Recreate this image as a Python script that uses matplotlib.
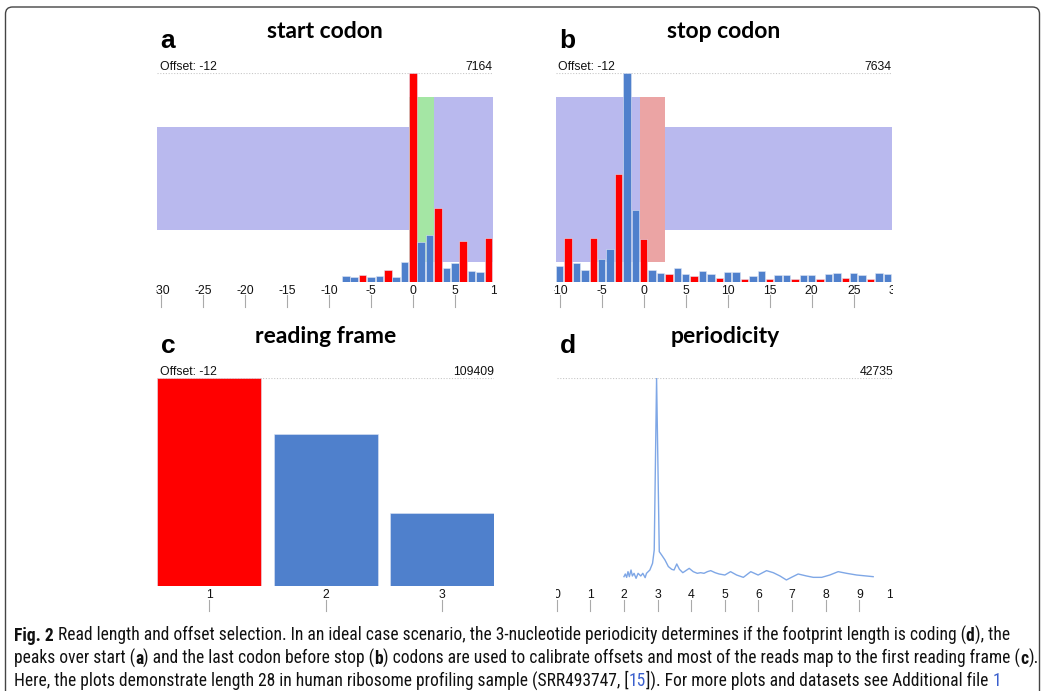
import numpy as np
import matplotlib
matplotlib.use("Agg")
import matplotlib.pyplot as plt
from matplotlib import font_manager
from matplotlib.patches import FancyBboxPatch
from matplotlib.transforms import Bbox, TransformedBbox, IdentityTransform, blended_transform_factory

# ---- data ----
start_pos = list(range(-8, 10))
start_counts = [195, 160, 240, 160, 195, 400, 160, 665, 7164, 1364, 1605, 2533,
                458, 642, 1398, 355, 321, 1513]

stop_pos = list(range(-10, 30))
stop_counts = [574, 1588, 696, 427, 1612, 830, 1185, 3945, 7634, 2613,
               1551, 427, 330, 269, 488, 269, 220, 403, 269, 147,
               354, 354, 98, 195, 391, 85, 232, 256, 98, 256,
               256, 110, 269, 317, 134, 330, 244, 85, 317, 269]

frame_labels = ["1", "2", "3"]
frame_counts = [109409, 79900, 38300]

period = [2.00, 2.04, 2.08, 2.12, 2.16, 2.21, 2.25, 2.30, 2.36, 2.42, 2.50, 2.56,
          2.63, 2.67, 2.77, 2.85, 2.90, 2.97, 3.05, 3.12, 3.22, 3.32, 3.42, 3.49,
          3.57, 3.65, 3.75, 3.84, 3.94, 4.06, 4.18, 4.28, 4.38, 4.48, 4.58, 4.71,
          4.83, 5.00, 5.17, 5.35, 5.55, 5.77, 5.99, 6.24, 6.44, 6.64, 6.83, 6.98,
          7.18, 7.43, 7.63, 7.88, 8.12, 8.37, 8.62, 8.92, 9.21, 9.41]
power = [1920, 2470, 1780, 2950, 1920, 3290, 2060, 2610, 1580, 2610, 2060, 2610,
         1720, 2610, 3290, 4670, 7400, 42735, 7070, 6380, 5350, 4000, 3430, 3290,
         4530, 3430, 2740, 3160, 3630, 2950, 2610, 2740, 2610, 2950, 3160, 2740,
         2470, 2260, 2950, 2260, 1780, 2950, 2260, 3160, 2740, 2060, 1240, 1780,
         2470, 2060, 1780, 1780, 2260, 2950, 2610, 2260, 2060, 1920]

offset_label = "Offset: -12"
# codon annotation blocks: (from, to, kind)
start_blocks = [(-30.5, -0.5, "utr"), (-0.5, 2.5, "codon"), (2.5, 9.5, "cds")]
stop_blocks = [(-10.5, -0.5, "cds"), (-0.5, 2.5, "codon"), (2.5, 29.5, "utr")]

RED = "#ff0000"
BLUE = "#4f80cc"
PURPLE = "#b9b9ee"
LINE = "#7fa7e6"

W, H = 1046, 691
fig = plt.figure(figsize=(W / 100, H / 100), dpi=100)


def px_axes(left, top, right, bottom):
    return fig.add_axes([left / W, (H - bottom) / H, (right - left) / W, (bottom - top) / H])


def clean(ax):
    for s in ax.spines.values():
        s.set_visible(False)
    ax.set_xticks([])
    ax.set_yticks([])
    ax.patch.set_alpha(0)


def axis_ticks(ax, ticks, labels, clip=True, spill=1.5):
    # labels are cut at the panel edges, as in the svg export
    tr = blended_transform_factory(ax.transData, ax.transAxes)
    wpx = ax.get_position().width * W
    box = TransformedBbox(Bbox([[-0.003, -0.5], [1 + spill / wpx, 1]]), ax.transAxes)
    lo, hi = ax.get_xlim()
    for t, lab in zip(ticks, labels):
        txt = ax.text(t, -0.045, lab, transform=tr, ha="center", va="center",
                      fontsize=8.8, family="Liberation Sans", color="#111")
        if clip:
            txt.set_clip_on(True)
            txt.set_clip_box(box)
        else:
            txt.set_clip_on(False)
        if lo <= t < hi - 0.05:
            ax.plot([t, t], [-0.065, -0.12], transform=tr, color="#aaa", lw=0.8, clip_on=False)


def header(ax, top, offset=True):
    ax.axhline(top, color="#c8c8c8", lw=0.8, ls=(0, (1, 1.5)), zorder=0.5)
    if offset:
        ax.text(0.008, 1.0, offset_label, transform=ax.transAxes, ha="left", va="bottom",
                fontsize=8.8, family="Liberation Sans", color="#111")
    ax.text(1.0, 1.0, str(top), transform=ax.transAxes, ha="right", va="bottom",
            fontsize=8.8, family="Liberation Sans", color="#111")


def title(ax, letter, text):
    ax.text(0.01, 1.155, letter, transform=ax.transAxes, ha="left", va="center",
            fontsize=19, fontweight="bold", family="Liberation Sans")
    ax.text(0.5, 1.2, text, transform=ax.transAxes, ha="center", va="center",
            fontsize=16.5, fontweight="bold", family="Lato")


def blocks(ax, spec, codon_color):
    for x0, x1, kind in spec:
        if kind == "utr":
            ax.axvspan(x0, x1, ymin=0.247, ymax=0.741, color=PURPLE, lw=0, zorder=0)
        elif kind == "cds":
            ax.axvspan(x0, x1, ymin=0.096, ymax=0.888, color=PURPLE, lw=0, zorder=0)
        else:
            ax.axvspan(x0, x1, ymin=0.096, ymax=0.888, color=codon_color, lw=0, zorder=0)


def frame_colors(pos):
    return [RED if p % 3 == 0 else BLUE for p in pos]


# ---- a: start codon ----
ax = px_axes(157.3, 73.3, 492.5, 281.7)
clean(ax)
blocks(ax, start_blocks, "#a4e6a4")
ax.bar(start_pos, start_counts, width=0.9, color=frame_colors(start_pos),
       edgecolor="#dfe6f5", lw=0.4, zorder=2)
ax.set_xlim(-30.5, 9.5)
ax.set_ylim(0, max(start_counts))
ticks = list(range(-30, 15, 5))
axis_ticks(ax, ticks, [str(t) for t in ticks], spill=4)
header(ax, max(start_counts))
title(ax, "a", "start codon")

# ---- b: stop codon ----
ax = px_axes(555.5, 73.3, 891.5, 281.7)
clean(ax)
blocks(ax, stop_blocks, "#eba4a4")
ax.bar(stop_pos, stop_counts, width=0.9, color=frame_colors(stop_pos),
       edgecolor="#dfe6f5", lw=0.4, zorder=2)
ax.set_xlim(-10.5, 29.5)
ax.set_ylim(0, max(stop_counts))
ticks = list(range(-10, 35, 5))
axis_ticks(ax, ticks, [str(t) for t in ticks], spill=1.5)
header(ax, max(stop_counts))
title(ax, "b", "stop codon")

# ---- c: reading frame ----
ax = px_axes(157.3, 378.3, 494, 586)
clean(ax)
xs = np.arange(1, 4)
ax.bar(xs, frame_counts, width=0.895, color=[RED, BLUE, BLUE],
       edgecolor="#dfe6f5", lw=0.4, zorder=2)
ax.set_xlim(1 - 0.4475, 3 + 0.4475)
ax.set_ylim(0, max(frame_counts))
axis_ticks(ax, xs, frame_labels, clip=False)
header(ax, max(frame_counts))
title(ax, "c", "reading frame")

# ---- d: periodicity ----
ax = px_axes(556.7, 378.3, 893, 586)
clean(ax)
ax.plot(period, power, color=LINE, lw=1.0, zorder=2)
ax.set_xlim(0, 10)
ax.set_ylim(0, max(power))
ticks = list(range(0, 11))
axis_ticks(ax, ticks, [str(t) for t in ticks], spill=-0.5)
header(ax, max(power), offset=False)
title(ax, "d", "periodicity")

# ---- rounded frame around the figure ----
frame = FancyBboxPatch((5.5, -30), 1034, H - 7 + 30, boxstyle="round,pad=0,rounding_size=7",
                       transform=IdentityTransform(), fill=False, ec="#444", lw=1.0)
fig.patches.append(frame)

# ---- caption ----
cap_family, cap_stretch = "Lato", "normal"
for f in font_manager.fontManager.ttflist:
    if f.name in ("Liberation Sans Narrow", "Roboto Condensed", "Open Sans Condensed"):
        cap_family, cap_stretch = f.name, "normal"
        break
    if f.name == "DejaVu Sans" and f.stretch in ("condensed", 400, "semi-condensed"):
        cap_family, cap_stretch = "DejaVu Sans", "condensed"

LINK = "#3a5fcd"
caption = [
    [("Fig. 2", "bold", "#111"), (" Read length and offset selection. In an ideal case scenario, the 3-nucleotide periodicity determines if the footprint length is coding (", "normal", "#111"),
     ("d", "bold", "#111"), ("), the", "normal", "#111")],
    [("peaks over start (", "normal", "#111"), ("a", "bold", "#111"),
     (") and the last codon before stop (", "normal", "#111"), ("b", "bold", "#111"),
     (") codons are used to calibrate offsets and most of the reads map to the first reading frame (", "normal", "#111"),
     ("c", "bold", "#111"), (").", "normal", "#111")],
    [("Here, the plots demonstrate length 28 in human ribosome profiling sample (SRR493747, [", "normal", "#111"),
     ("15", "normal", LINK), ("]). For more plots and datasets see Additional file ", "normal", "#111"),
     ("1", "normal", LINK)],
]
renderer = fig.canvas.get_renderer()


def text_width(s, weight, size):
    kw = dict(fontsize=size, fontweight=weight, family=cap_family, fontstretch=cap_stretch)
    a = fig.text(0, 0, s + "|", **kw)
    b = fig.text(0, 0, "|", **kw)
    w = a.get_window_extent(renderer).width - b.get_window_extent(renderer).width
    a.remove()
    b.remove()
    return w


# size the caption so that the two long lines fit the frame like in the figure
widest = max(sum(text_width(s, wt, 10) for s, wt, c in line) for line in caption[:2])
cap_size = 10 * 1014 / widest

for i, line in enumerate(caption):
    x = 14
    y = H - (641 + i * 22.5)
    for s, weight, color in line:
        fig.text(x, y, s, fontsize=cap_size, fontweight=weight, color=color, family=cap_family,
                 fontstretch=cap_stretch, transform=IdentityTransform(), ha="left", va="baseline")
        x += text_width(s, weight, cap_size)

fig.savefig("out.png", dpi=100)
